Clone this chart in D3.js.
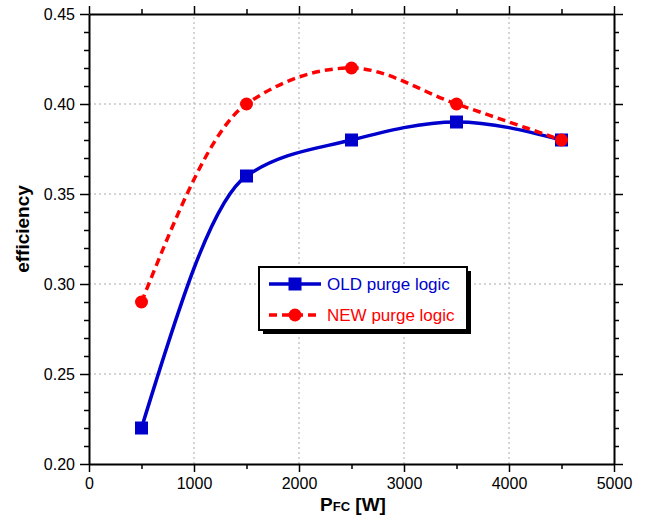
<!DOCTYPE html>
<html><head><meta charset="utf-8">
<script src="https://cdn.jsdelivr.net/npm/d3@7"></script>
<style>body{margin:0;background:#fff}svg{display:block}</style>
</head><body>
<script>
const powerW = [500, 1500, 2500, 3500, 4500];
const oldEff = [0.22, 0.36, 0.38, 0.39, 0.38];
const newEff = [0.29, 0.40, 0.42, 0.40, 0.38];
const xTicks = [0, 1000, 2000, 3000, 4000, 5000];
const yTicks = [0.20, 0.25, 0.30, 0.35, 0.40, 0.45];
const seriesNames = ["OLD purge logic", "NEW purge logic"];

const W = 646, H = 517;
const m = {l: 89, r: 32, t: 14, b: 53};
const svg = d3.select("body").append("svg").attr("width", W).attr("height", H);
const x = d3.scaleLinear().domain([0, 5000]).range([m.l, W - m.r]);
const y = d3.scaleLinear().domain([0.20, 0.45]).range([H - m.b, m.t]);
const font = "Liberation Sans, Arial, sans-serif";

// grid
const g = svg.append("g");
g.selectAll(".gx").data(xTicks.slice(1, -1)).join("line")
  .attr("x1", d => x(d)).attr("x2", d => x(d)).attr("y1", y(0.20)).attr("y2", y(0.45))
  .attr("stroke", "#aaa").attr("stroke-width", 1).attr("stroke-dasharray", "2,3");
g.selectAll(".gy").data(yTicks.slice(1, -1)).join("line")
  .attr("y1", d => y(d)).attr("y2", d => y(d)).attr("x1", x(0)).attr("x2", x(5000))
  .attr("stroke", "#aaa").attr("stroke-width", 1).attr("stroke-dasharray", "2,3");

// axes
const xMinor = d3.range(500, 5000, 1000);
const yMinor = d3.range(0.20, 0.4501, 0.01).filter(v => Math.abs(Math.round(v * 100) % 5) !== 0);
function styleAxis(sel) {
  sel.select(".domain").attr("stroke", "#000").attr("stroke-width", 2);
  sel.selectAll(".tick line").attr("stroke", "#000").attr("stroke-width", 1.5);
  sel.selectAll("text").attr("font-family", font).attr("font-size", 16).attr("fill", "#000");
}
const xb = svg.append("g").attr("transform", `translate(0,${y(0.20)})`)
  .call(d3.axisBottom(x).tickValues(xTicks).tickFormat(d3.format("d")).tickSizeInner(8).tickSizeOuter(0).tickPadding(6));
styleAxis(xb);
svg.append("g").attr("transform", `translate(0,${y(0.20)})`)
  .call(d3.axisBottom(x).tickValues(xMinor).tickFormat("").tickSizeInner(5).tickSizeOuter(0))
  .call(s => { s.select(".domain").remove(); s.selectAll("line").attr("stroke", "#000").attr("stroke-width", 1.5); });
const xt = svg.append("g").attr("transform", `translate(0,${y(0.45)})`)
  .call(d3.axisTop(x).tickValues(xTicks).tickFormat("").tickSizeInner(8).tickSizeOuter(0));
styleAxis(xt);
svg.append("g").attr("transform", `translate(0,${y(0.45)})`)
  .call(d3.axisTop(x).tickValues(xMinor).tickFormat("").tickSizeInner(5).tickSizeOuter(0))
  .call(s => { s.select(".domain").remove(); s.selectAll("line").attr("stroke", "#000").attr("stroke-width", 1.5); });

const yl = svg.append("g").attr("transform", `translate(${x(0)},0)`)
  .call(d3.axisLeft(y).tickValues(yTicks).tickFormat(d3.format(".2f")).tickSizeInner(9).tickSizeOuter(0).tickPadding(5));
styleAxis(yl);
svg.append("g").attr("transform", `translate(${x(0)},0)`)
  .call(d3.axisLeft(y).tickValues(yMinor).tickFormat("").tickSizeInner(5).tickSizeOuter(0))
  .call(s => { s.select(".domain").remove(); s.selectAll("line").attr("stroke", "#000").attr("stroke-width", 1.5); });
const yr = svg.append("g").attr("transform", `translate(${x(5000)},0)`)
  .call(d3.axisRight(y).tickValues(yTicks).tickFormat("").tickSizeInner(9).tickSizeOuter(0));
styleAxis(yr);
svg.append("g").attr("transform", `translate(${x(5000)},0)`)
  .call(d3.axisRight(y).tickValues(yMinor).tickFormat("").tickSizeInner(5).tickSizeOuter(0))
  .call(s => { s.select(".domain").remove(); s.selectAll("line").attr("stroke", "#000").attr("stroke-width", 1.5); });

// axis titles
const xtTitle = svg.append("text").attr("x", 353).attr("y", 511).attr("text-anchor", "middle")
  .attr("font-family", font).attr("font-weight", "bold").attr("font-size", 19);
xtTitle.append("tspan").text("P");
xtTitle.append("tspan").attr("font-size", 13).text("FC");
xtTitle.append("tspan").text(" [W]");
svg.append("text").attr("transform", `translate(29,${(y(0.20) + y(0.45)) / 2 - 10}) rotate(-90)`)
  .attr("text-anchor", "middle").attr("font-family", font).attr("font-weight", "bold").attr("font-size", 19)
  .text("efficiency");

// series
const oldData = powerW.map((p, i) => [p, oldEff[i]]);
const newData = powerW.map((p, i) => [p, newEff[i]]);
const line = d3.line().x(d => x(d[0])).y(d => y(d[1])).curve(d3.curveMonotoneX);
svg.append("path").datum(oldData).attr("d", line).attr("fill", "none")
  .attr("stroke", "#0000cc").attr("stroke-width", 3.5);
svg.append("path").datum(newData).attr("d", line).attr("fill", "none")
  .attr("stroke", "#ff0000").attr("stroke-width", 3.5).attr("stroke-dasharray", "8,5");
svg.selectAll(".sq").data(oldData).join("rect")
  .attr("x", d => x(d[0]) - 6.5).attr("y", d => y(d[1]) - 6.5).attr("width", 13).attr("height", 13)
  .attr("fill", "#0000cc");
svg.selectAll(".ci").data(newData).join("circle")
  .attr("cx", d => x(d[0])).attr("cy", d => y(d[1])).attr("r", 6.5).attr("fill", "#ff0000");

// legend
const lg = svg.append("g");
lg.append("rect").attr("x", 263).attr("y", 271).attr("width", 208).attr("height", 63).attr("fill", "#000");
lg.append("rect").attr("x", 259).attr("y", 267).attr("width", 208).attr("height", 63)
  .attr("fill", "#fff").attr("stroke", "#000").attr("stroke-width", 2);
const rows = [
  {name: seriesNames[0], color: "#0000cc", dash: null, shape: "sq", yy: 284},
  {name: seriesNames[1], color: "#ff0000", dash: "8,5", shape: "ci", yy: 315}
];
rows.forEach(r => {
  lg.append("line").attr("x1", 269).attr("x2", 321).attr("y1", r.yy).attr("y2", r.yy)
    .attr("stroke", r.color).attr("stroke-width", 3.5).attr("stroke-dasharray", r.dash);
  if (r.shape === "sq") lg.append("rect").attr("x", 288.5).attr("y", r.yy - 6.5).attr("width", 13).attr("height", 13).attr("fill", r.color);
  else lg.append("circle").attr("cx", 295).attr("cy", r.yy).attr("r", 6.5).attr("fill", r.color);
  lg.append("text").attr("x", 327).attr("y", r.yy + 6).attr("font-family", font).attr("font-size", 17)
    .attr("fill", r.color).text(r.name);
});
</script>
</body></html>
